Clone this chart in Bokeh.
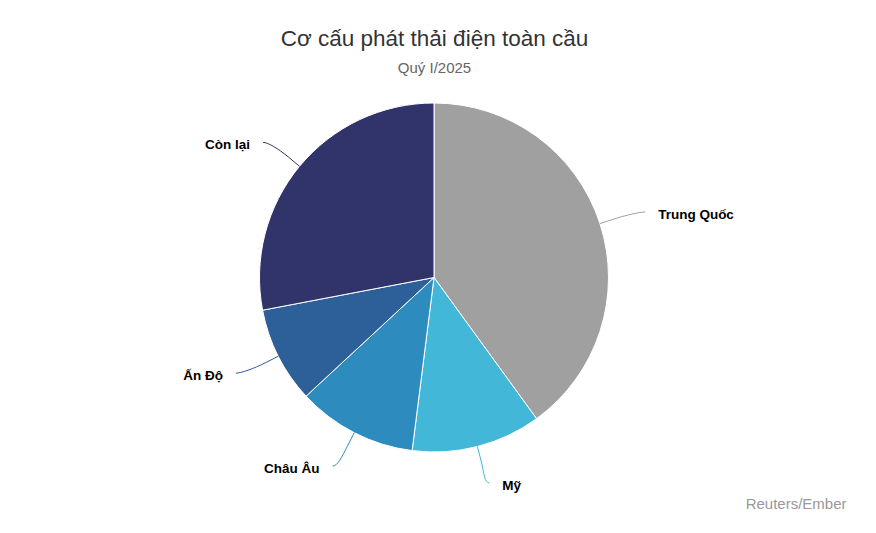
import math
from bokeh.plotting import figure
from bokeh.models import Range1d, ColumnDataSource
from bokeh.core.properties import value
from bokeh.embed import file_html
from bokeh.resources import INLINE

# ---- data ----
categories = ["Trung Quốc", "Mỹ", "Châu Âu", "Ấn Độ", "Còn lại"]
shares = [40.0, 12.0, 11.1, 8.9, 28.0]
colors = ["#a0a0a0", "#42b7d7", "#2e8bbd", "#2d5f98", "#30346b"]
title_text = "Cơ cấu phát thải điện toàn cầu"
subtitle_text = "Quý I/2025"
credit_text = "Reuters/Ember"

# ---- layout ----
W, H = 860, 517
IMG_H = 533


def Y(img_y):
    return IMG_H - img_y


CX, CY = 433.5, Y(277)
R = 174.5
RX_LBL, RY_LBL = 222, 212
FONT = "Liberation Sans"

p = figure(width=W, height=H, x_range=Range1d(0, W), y_range=Range1d(IMG_H - H, IMG_H),
           output_backend="svg", toolbar_location=None,
           x_axis_type=None, y_axis_type=None, min_border=0,
           outline_line_color=None)
p.background_fill_color = "white"
p.border_fill_color = "white"

total = sum(shares)
starts, ends, mids = [], [], []
acc = 0.0
for s in shares:
    a0 = acc / total * 2 * math.pi
    acc += s
    a1 = acc / total * 2 * math.pi
    starts.append(a0)
    ends.append(a1)
    mids.append((a0 + a1) / 2)

src = ColumnDataSource(dict(
    x=[CX] * len(shares), y=[CY] * len(shares),
    start=[math.pi / 2 - a for a in starts],
    end=[math.pi / 2 - a for a in ends],
    color=colors,
))
p.wedge(x="x", y="y", radius=R, start_angle="start", end_angle="end",
        direction="clock", fill_color="color", line_color="white", line_width=1,
        source=src)

# connectors and labels
for cat, m, col in zip(categories, mids, colors):
    sx, cy_ = math.sin(m), math.cos(m)
    tx, ty = CX + R * sx, CY + R * cy_
    bx, by = CX + (R + 14) * sx, CY + (R + 14) * cy_
    ax, ay = CX + RX_LBL * sx, CY + RY_LBL * cy_
    right = sx > 0
    p.bezier(x0=[ax], y0=[ay], x1=[bx], y1=[by],
             cx0=[ax + (-5 if right else 5)], cy0=[ay],
             cx1=[2 * bx - tx], cy1=[2 * by - ty],
             line_color=col, line_width=1)
    p.segment(x0=[bx], y0=[by], x1=[tx], y1=[ty], line_color=col, line_width=1)
    p.text(x=[ax + (13 if right else -13)], y=[ay - 2.5], text=[cat],
           text_align="left" if right else "right", text_baseline="middle",
           text_font=value(FONT), text_font_size="13.5px", text_font_style="bold",
           text_color="#000000")

p.text(x=[434], y=[Y(38)], text=[title_text], text_align="center", text_baseline="middle",
       text_font=value(FONT), text_font_size="22.5px", text_color="#333333")
p.text(x=[434], y=[Y(67)], text=[subtitle_text], text_align="center", text_baseline="middle",
       text_font=value(FONT), text_font_size="15px", text_color="#666666")
p.text(x=[846], y=[Y(503)], text=[credit_text], text_align="right", text_baseline="middle",
       text_font=value(FONT), text_font_size="15px", text_color="#999999")

open("out.html", "w").write(file_html(p, INLINE))
